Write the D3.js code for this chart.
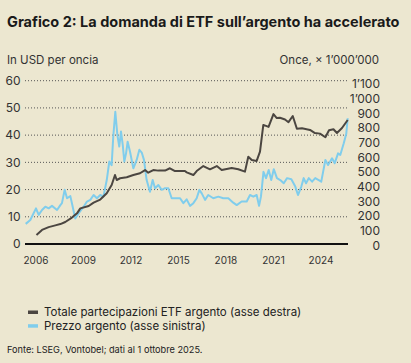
<!DOCTYPE html>
<html><head><meta charset="utf-8">
<script src="https://cdn.jsdelivr.net/npm/d3@7/dist/d3.min.js"></script>
<style>
html,body{margin:0;padding:0;background:#ece7d0;}
svg{display:block;font-family:Inter,"Noto Sans",sans-serif;}
</style></head><body>
<script>
// ---- data (decimal years) ----
const priceDates = [2005.35,2005.64,2005.85,2006.00,2006.17,2006.38,2006.59,2006.80,2007.01,2007.33,2007.54,2007.64,2007.81,2007.96,2008.17,2008.27,2008.48,2008.70,2009.01,2009.22,2009.43,2009.64,2009.85,2010.06,2010.26,2010.47,2010.63,2010.78,2010.88,2011.01,2011.14,2011.26,2011.37,2011.48,2011.58,2011.69,2011.79,2011.94,2012.15,2012.36,2012.53,2012.68,2012.82,2012.99,2013.20,2013.37,2013.52,2013.73,2013.94,2014.15,2014.36,2014.57,2014.78,2015.10,2015.31,2015.52,2015.73,2015.94,2016.15,2016.32,2016.47,2016.68,2016.88,2017.20,2017.52,2017.83,2018.15,2018.46,2018.68,2018.99,2019.31,2019.52,2019.73,2019.94,2020.09,2020.21,2020.37,2020.53,2020.70,2020.86,2021.02,2021.22,2021.43,2021.65,2021.86,2022.13,2022.38,2022.55,2022.76,2022.91,2023.06,2023.23,2023.44,2023.64,2023.86,2024.02,2024.28,2024.45,2024.70,2024.87,2025.08,2025.22,2025.44,2025.60,2025.69];
const priceValues = [7.4,8.8,11.3,13.1,10.7,12.5,13.7,13.1,14.0,12.5,14.3,15.0,19.9,16.8,17.6,15.0,9.4,11.3,13.7,15.6,16.2,18.0,16.8,18.0,17.4,23.5,30.3,29.0,39.4,48.6,40.1,35.8,41.3,36.4,30.3,33.3,37.6,33.9,27.8,30.9,34.6,33.6,30.9,23.5,19.2,23.5,20.5,21.7,19.9,20.5,20.5,16.8,16.8,16.8,15.0,16.4,14.0,15.0,16.8,19.9,18.6,16.2,18.0,16.8,17.4,16.8,16.8,15.2,14.3,15.6,15.6,18.0,17.4,18.0,14.0,17.4,26.5,24.2,27.2,23.5,27.5,24.2,23.5,22.3,24.2,23.8,21.1,18.0,21.1,24.2,22.3,24.2,22.9,24.2,23.5,22.9,30.9,29.0,31.5,29.7,33.3,32.7,37.0,40.5,46.2];
const etfDates = [2006.03,2006.38,2006.80,2007.22,2007.54,2007.85,2008.27,2008.59,2008.80,2009.33,2009.64,2010.06,2010.47,2010.78,2010.99,2011.10,2011.31,2011.73,2012.15,2012.57,2012.89,2013.09,2013.41,2013.73,2014.15,2014.46,2014.78,2015.41,2015.52,2015.94,2016.15,2016.57,2016.99,2017.42,2017.73,2018.36,2018.78,2019.20,2019.41,2019.63,2019.94,2020.15,2020.26,2020.36,2020.53,2020.69,2021.00,2021.21,2021.41,2021.73,2021.95,2022.22,2022.48,2022.80,2023.31,2023.62,2023.94,2024.28,2024.51,2024.79,2025.01,2025.33,2025.69];
const etfValues = [72,106,125,137,146,160,190,219,253,269,292,313,356,412,480,446,458,465,480,492,514,496,514,510,510,526,507,507,498,480,507,541,519,541,514,528,519,503,605,582,576,639,735,821,815,808,895,868,870,858,840,882,795,798,787,766,762,737,785,792,766,800,855];
const yearTicks = [2006,2009,2012,2015,2018,2021,2024];
const leftTicks = [0,10,20,30,40,50,60];
const rightTicks = [0,100,200,300,400,500,600,700,800,900,1000,1100];
const seriesNames = ["Totale partecipazioni ETF argento (asse destra)","Prezzo argento (asse sinistra)"];
const colors = {etf:"#4b4641", price:"#80cdec"};

const W=411,H=363;
const svg=d3.select("body").append("svg").attr("width",W).attr("height",H);
svg.append("rect").attr("width",W).attr("height",H).attr("fill","#ece7d0");

const x=d3.scaleLinear().domain([2005.35,2025.69]).range([25.7,347.7]);
const yL=d3.scaleLinear().domain([0,60]).range([244,80.7]);
const yR=d3.scaleLinear().domain([0,1100]).range([245.5,84]);

// title
svg.append("text").attr("x",7).attr("y",27).attr("font-size",14.5).attr("font-weight",700)
  .attr("fill","#1a1a1a").text("Grafico 2: La domanda di ETF sull’argento ha accelerato");
svg.append("text").attr("x",7).attr("y",63.5).attr("font-size",11.5).attr("fill","#333").text("In USD per oncia");
svg.append("text").attr("x",379).attr("y",63.5).attr("text-anchor","end").attr("font-size",11.5).attr("fill","#333").text("Once, × 1’000’000");

// gridlines
svg.append("g").selectAll("line").data(leftTicks.filter(d=>d>0)).join("line")
  .attr("x1",25).attr("x2",348).attr("y1",d=>yL(d)).attr("y2",d=>yL(d))
  .attr("stroke","#555").attr("stroke-width",1).attr("stroke-dasharray","1,2");

// left axis labels
svg.append("g").selectAll("text").data(leftTicks).join("text")
  .attr("x",20.5).attr("y",d=>yL(d)).attr("dy","0.35em").attr("text-anchor","end")
  .attr("font-size",12).attr("fill","#333").text(d=>d);
// right axis labels
const fmtR=d=>d>=1000?String(Math.floor(d/1000))+"’"+String(d%1000).padStart(3,"0"):String(d);
svg.append("g").selectAll("text").data(rightTicks).join("text")
  .attr("x",380).attr("y",d=>yR(d)).attr("dy","0.35em").attr("text-anchor","end")
  .attr("font-size",12).attr("fill","#333").text(fmtR);
// x labels
svg.append("g").selectAll("text").data(yearTicks).join("text")
  .attr("x",d=>x(d)).attr("y",260).attr("dy","0.35em").attr("text-anchor","middle")
  .attr("font-size",10).attr("fill","#333").text(d=>d);

// lines
const priceData=priceDates.map((d,i)=>[d,priceValues[i]]);
const etfData=etfDates.map((d,i)=>[d,etfValues[i]]);
svg.append("path").datum(priceData).attr("fill","none").attr("stroke",colors.price).attr("stroke-width",2)
  .attr("stroke-linejoin","round").attr("d",d3.line().x(d=>x(d[0])).y(d=>yL(d[1])));
svg.append("path").datum(etfData).attr("fill","none").attr("stroke",colors.etf).attr("stroke-width",2)
  .attr("stroke-linejoin","round").attr("d",d3.line().x(d=>x(d[0])).y(d=>yR(d[1])));

// baseline
svg.append("line").attr("x1",25).attr("x2",348).attr("y1",yL(0)).attr("y2",yL(0)).attr("stroke","#111").attr("stroke-width",2);

// legend
const leg=svg.append("g");
[colors.etf,colors.price].forEach((c,i)=>{
  leg.append("rect").attr("x",28).attr("y",312+i*13.7-1.5).attr("width",10).attr("height",3.5).attr("fill",c);
  leg.append("text").attr("x",44).attr("y",312+i*13.7).attr("dy","0.35em").attr("font-size",11.5).attr("fill","#222").text(seriesNames[i]);
});
svg.append("text").attr("x",7).attr("y",350).attr("dy","0.35em").attr("font-size",9.2).attr("fill","#222")
  .text("Fonte: LSEG, Vontobel; dati al 1 ottobre 2025.");
</script>
</body></html>
